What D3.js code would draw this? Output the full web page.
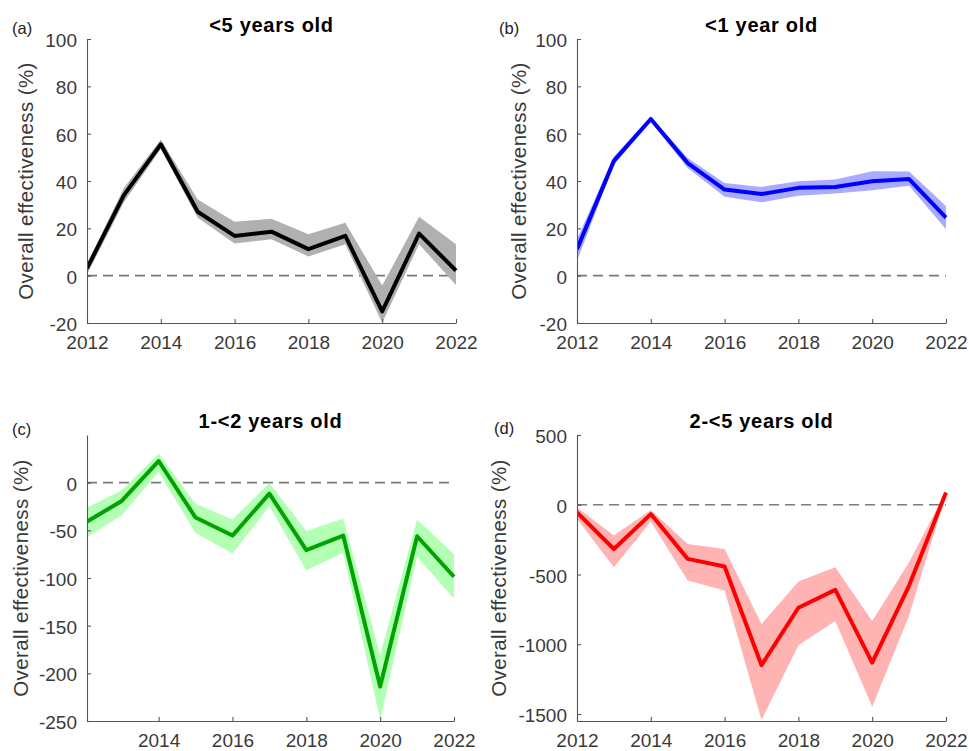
<!DOCTYPE html>
<html>
<head>
<meta charset="utf-8">
<script src="https://cdn.jsdelivr.net/npm/d3@7"></script>
<style>
  html, body { margin: 0; padding: 0; background: #fff; }
  svg { display: block; font-family: "Liberation Sans", Arial, Helvetica, sans-serif; }
  .tick text { fill: #3a3a3a; }
  .domain, .tick line { stroke: #555; }
</style>
</head>
<body>
<svg id="chart" width="969" height="751"></svg>
<script>
// ---------------- data ----------------
const years = [2012, 2013, 2014, 2015, 2016, 2017, 2018, 2019, 2020, 2021, 2022];

// (a) <5 years old
const meanA = [3.1, 34, 55.5, 27, 16.8, 18.6, 11.2, 16.8, -15.1, 17.8, 2.1];
const loA   = [0.5, 31, 53.5, 24.5, 13.6, 15.4, 8.1, 13.3, -19.9, 13.3, -3.9];
const hiA   = [5, 37, 57.5, 32.2, 22.8, 24, 17.5, 22.4, -4.2, 24.9, 13.3];

// (b) <1 year old
const meanB = [11.2, 48.5, 66.2, 47.6, 36.4, 34.5, 37.1, 37.5, 39.9, 40.8, 24.5];
const loB   = [6.3, 46.9, 65, 45.5, 33.3, 31, 33.8, 34.7, 36.1, 38, 19.6];
const hiB   = [15.4, 50.3, 67.1, 49.7, 39.2, 37.5, 39.9, 40.6, 44.1, 44, 29.4];

// (c) 1-<2 years old
const meanC = [-42.2, -19.2, 22.7, -36.6, -55.5, -11.5, -70.8, -55.5, -213.9, -56.2, -98.7];
const loC   = [-58.6, -34.2, 11.2, -52.7, -74.3, -24.8, -91.8, -73.6, -248.8, -77.8, -121.4];
const hiC   = [-27.2, -8, 30.4, -22, -38.7, -0.3, -50.6, -37.7, -180.7, -38.7, -75];

// (d) 2-<5 years old
const meanD = [-55, -317, -67, -388, -443, -1150, -738, -610, -1131, -579, 88];
const loD   = [-100, -448, -120, -543, -614, -1543, -1007, -833, -1448, -793, 80];
const hiD   = [-19, -221, -38, -281, -317, -855, -550, -448, -833, -412, 95];

const titles = ["<5 years old", "<1 year old", "1-<2 years old", "2-<5 years old"];
const panelLabels = ["(a)", "(b)", "(c)", "(d)"];
const yTicksA = [-20, 0, 20, 40, 60, 80, 100];
const yTicksC = [-250, -200, -150, -100, -50, 0];
const yTicksD = [-1500, -1000, -500, 0, 500];
const xTicksFull = [2012, 2014, 2016, 2018, 2020, 2022];
const xTicksC = [2014, 2016, 2018, 2020, 2022];
const yLabel = "Overall effectiveness (%)";

// ---------------- layout / style ----------------
const panels = [
  { mean: meanA, lo: loA, hi: hiA, line: "#000000", fill: "#b0b0b0",
    yDom: [-20, 100], yTicks: yTicksA, xDom: [2012, 2022], xTicks: xTicksFull,
    x0: 87, x1: 456, y0: 39, y1: 323, lblX: 12, lblY: 33.5, yLabX: 33 },
  { mean: meanB, lo: loB, hi: hiB, line: "#0000ff", fill: "#aaaaff",
    yDom: [-20, 100], yTicks: yTicksA, xDom: [2012, 2022], xTicks: xTicksFull,
    x0: 577, x1: 946, y0: 39, y1: 323, lblX: 499, lblY: 33.5, yLabX: 526 },
  { mean: meanC, lo: loC, hi: hiC, line: "#00a300", fill: "#b3ffb3",
    yDom: [-250, 50], yTicks: yTicksC, xDom: [2012.06, 2022], xTicks: xTicksC,
    x0: 87, x1: 454, y0: 435, y1: 721, lblX: 12, lblY: 434.5, yLabX: 28 },
  { mean: meanD, lo: loD, hi: hiD, line: "#ff0000", fill: "#ffb3b3",
    yDom: [-1550, 500], yTicks: yTicksD, xDom: [2012, 2022], xTicks: xTicksFull,
    x0: 577, x1: 946, y0: 435, y1: 721, lblX: 494, lblY: 433.5, yLabX: 506 }
];

const svg = d3.select("#chart");
const fmt = d => String(d);   // plain hyphen-minus, as in the reference

panels.forEach((p, i) => {
  const x = d3.scaleLinear().domain(p.xDom).range([p.x0, p.x1]);
  const y = d3.scaleLinear().domain(p.yDom).range([p.y1, p.y0]);
  const g = svg.append("g");

  const clipId = "clip" + i;
  svg.append("clipPath").attr("id", clipId)
    .append("rect").attr("x", p.x0).attr("y", p.y0 - 10)
    .attr("width", p.x1 - p.x0 + 6).attr("height", p.y1 - p.y0 + 10);

  const rows = years.map((yr, k) => ({ yr, m: p.mean[k], lo: p.lo[k], hi: p.hi[k] }));

  const plot = g.append("g").attr("clip-path", `url(#${clipId})`);

  // zero reference
  plot.append("line")
    .attr("x1", p.x0).attr("x2", p.x1)
    .attr("y1", y(0)).attr("y2", y(0))
    .attr("stroke", "#7a7a7a").attr("stroke-width", 1.6)
    .attr("stroke-dasharray", "10,6");

  // band
  plot.append("path").datum(rows)
    .attr("d", d3.area().x(d => x(d.yr)).y0(d => y(d.lo)).y1(d => y(d.hi)))
    .attr("fill", p.fill).attr("stroke", "none");

  // mean line
  plot.append("path").datum(rows)
    .attr("d", d3.line().x(d => x(d.yr)).y(d => y(d.m)))
    .attr("fill", "none").attr("stroke", p.line)
    .attr("stroke-width", 4).attr("stroke-linejoin", "round");

  // axes
  const ya = g.append("g").attr("transform", `translate(${p.x0},0)`)
    .call(d3.axisLeft(y).tickValues(p.yTicks).tickFormat(fmt)
      .tickSizeInner(-4).tickSizeOuter(0).tickPadding(10));
  const xa = g.append("g").attr("transform", `translate(0,${p.y1})`)
    .call(d3.axisBottom(x).tickValues(p.xTicks).tickFormat(fmt)
      .tickSizeInner(-4).tickSizeOuter(0).tickPadding(13));
  [ya, xa].forEach(a => {
    a.selectAll("text").attr("font-size", 19)
      .attr("font-family", '"Liberation Sans", Arial, Helvetica, sans-serif');
    a.select(".domain").attr("stroke-width", 1.1);
    a.selectAll(".tick line").attr("stroke-width", 1.1);
  });
  xa.selectAll(".tick text").attr("dy", "0.71em");
  ya.selectAll(".tick text").attr("dy", "0.4em");

  // title
  g.append("text")
    .attr("x", (p.x0 + p.x1) / 2).attr("y", p.y0 - 7.5)
    .attr("text-anchor", "middle").attr("font-size", 20).attr("font-weight", "bold")
    .attr("letter-spacing", "0.7px")
    .attr("fill", "#000").text(titles[i]);

  // panel label
  g.append("text").attr("x", p.lblX).attr("y", p.lblY)
    .attr("font-size", 16.5).attr("fill", "#222").text(panelLabels[i]);

  // y label
  g.append("text")
    .attr("transform", `translate(${p.yLabX},${(p.y0 + p.y1) / 2}) rotate(-90)`)
    .attr("text-anchor", "middle").attr("font-size", 20.5).attr("fill", "#3a3a3a")
    .attr("letter-spacing", "0.4px")
    .text(yLabel);
});
</script>
</body>
</html>
